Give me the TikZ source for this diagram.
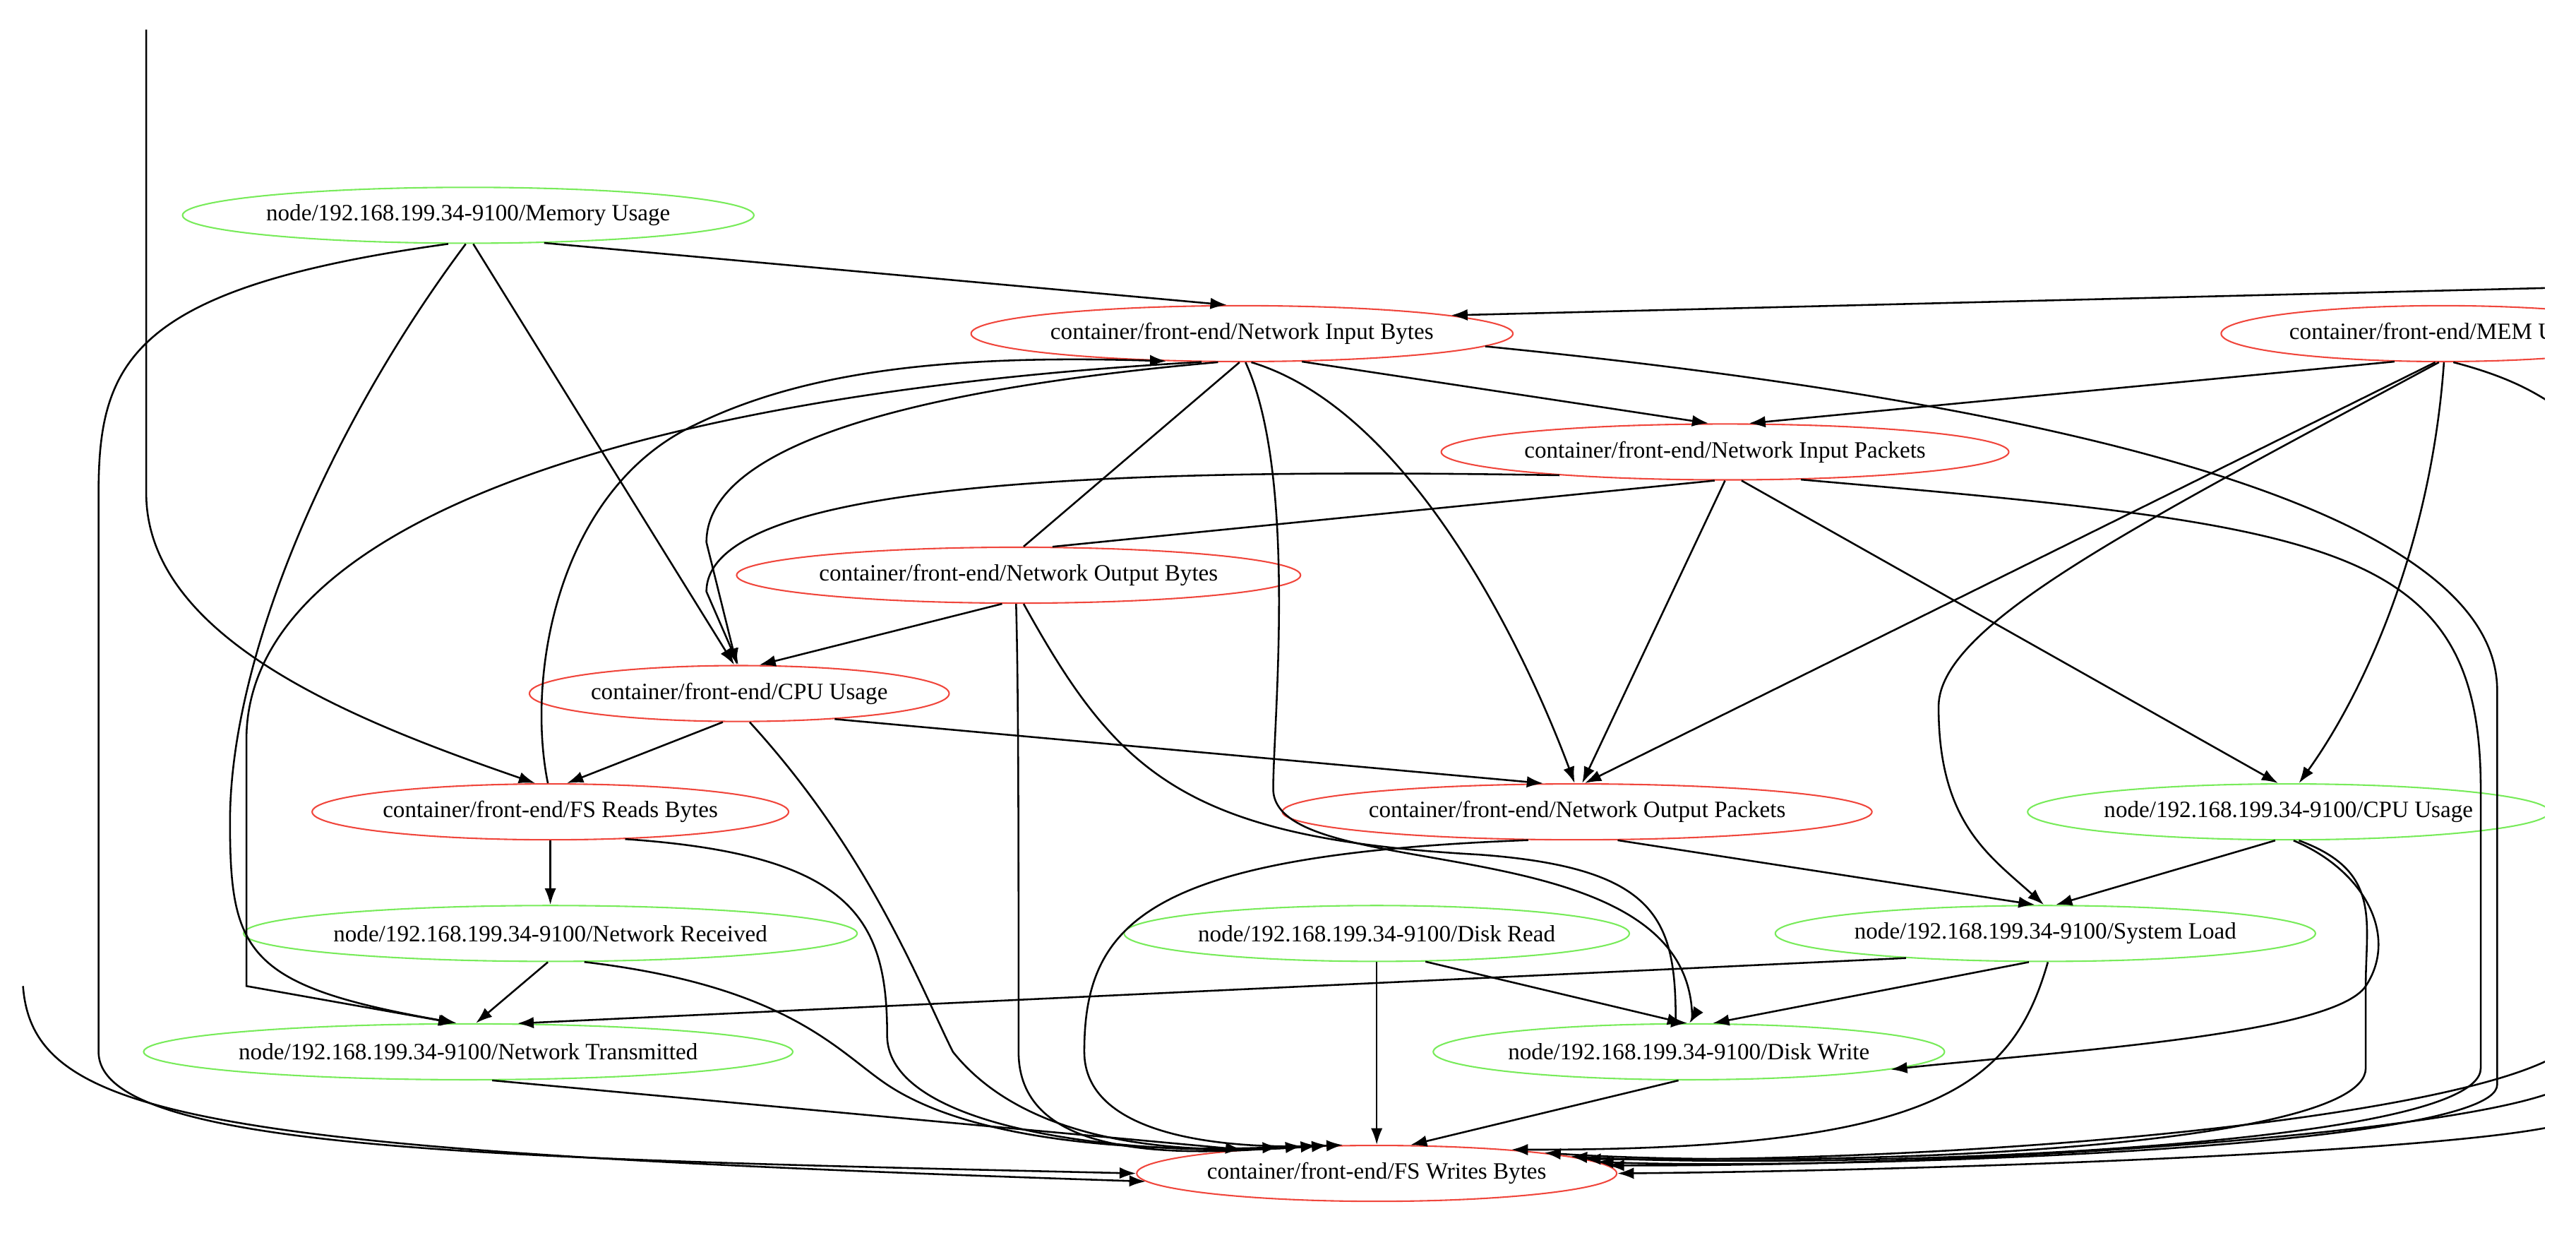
\documentclass[tikz,border=0pt]{standalone}
\usepackage{fontspec}
\setmainfont{Liberation Serif}
\usetikzlibrary{shapes.geometric,arrows.meta}
\definecolor{rd}{RGB}{240,70,60}
\definecolor{gn}{RGB}{120,235,90}
\begin{document}
\begin{tikzpicture}[x=1mm,y=-1mm,
 nd/.style={ellipse,draw,line width=0.9mm,minimum height=34mm,inner sep=0pt,font=\fontsize{40.5}{44}\selectfont},
 r/.style={nd,draw=rd}, g/.style={nd,draw=gn},
 e/.style={line width=1.1mm,black},
 a/.style={e,-{Latex[length=10mm,width=7mm]}}]
\useasboundingbox (0,0) rectangle (1568,750);
\begin{scope}
\clip (0,0) rectangle (1549,750);
\node[g,minimum width=336mm] (mem) at (285,131) {node/192.168.199.34-9100/Memory Usage};
\node[r,minimum width=320mm] (nib) at (756,203) {container/front-end/Network Input Bytes};
\node[r,minimum width=270mm] (memu) at (1487,203) {container/front-end/MEM Usage};
\node[r,minimum width=340mm] (nip) at (1050,275) {container/front-end/Network Input Packets};
\node[r,minimum width=330mm] (nob) at (620,350) {container/front-end/Network Output Bytes};
\node[r,minimum width=224mm] (cpu) at (450,422) {container/front-end/CPU Usage};
\node[r,minimum width=350mm] (nop) at (960,494) {container/front-end/Network Output Packets};
\node[g,minimum width=310mm] (ncpu) at (1393,494) {node/192.168.199.34-9100/CPU Usage};
\node[r,minimum width=290mm] (fsr) at (335,494) {container/front-end/FS Reads Bytes};
\node[g,minimum width=360mm] (nrx) at (335,568) {node/192.168.199.34-9100/Network Received};
\node[g,minimum width=300mm] (drd) at (838,568) {node/192.168.199.34-9100/Disk Read};
\node[g,minimum width=320mm] (sys) at (1245,568) {node/192.168.199.34-9100/System Load};
\node[g,minimum width=380mm] (ntx) at (285,640) {node/192.168.199.34-9100/Network Transmitted};
\node[g,minimum width=300mm] (dwr) at (1028,640) {node/192.168.199.34-9100/Disk Write};
\node[r,minimum width=290mm] (fsw) at (838,714) {container/front-end/FS Writes Bytes};
\coordinate (t0) at (89,18);
\coordinate (l0) at (14,600);
\coordinate (r0) at (1560,175);
\coordinate (r1) at (1560,250);
\coordinate (r2) at (1560,640);
\coordinate (r3) at (1560,662);
\coordinate (r4) at (1560,684);
\draw[a] (t0) -- (89,300) .. controls (89,390) and (220,440) .. (fsr.118);
\draw[a] (l0) .. controls (20,680) and (120,700) .. (fsw.182);
\draw[a] (mem.-20) -- (nib.118);
\draw[a] (mem.-125) .. controls (80,175) and (60,220) .. (60,300) -- (60,640) .. controls (60,700) and (300,705) .. (fsw.180);
\draw[a] (mem.-95) .. controls (200,260) and (140,400) .. (140,500) .. controls (140,580) and (150,600) .. (ntx.112);
\draw[a] (mem.-80) -- (cpu.100);
\draw[a] (r0) -- (nib.5);
\draw[a] (nib.-25) -- (nip.120);
\draw[e] (nib.-95) -- (nob.80);
\draw[a] (nib.-130) .. controls (520,240) and (430,280) .. (430,330) -- (cpu.95);
\draw[a] (nib.-72) .. controls (860,250) and (930,400) .. (nop.95);
\draw[a] (nib.-83) .. controls (790,290) and (775,440) .. (775,480) .. controls (775,540) and (1030,500) .. (1030,620) -- (dwr.89);
\draw[a] (nib.-3) .. controls (1300,250) and (1520,320) .. (1520,420) -- (1520,660) .. controls (1520,700) and (1100,712) .. (fsw.3);
\draw[a] (nib.-145) .. controls (380,240) and (150,320) .. (150,450) -- (150,600) -- (ntx.115);
\draw[a] (fsr.95) .. controls (320,410) and (340,300) .. (420,260) .. controls (480,230) and (560,215) .. (nib.-160);
\draw[a] (memu.-150) -- (nip.50);
\draw[a] (memu.-105) -- (nop.75);
\draw[a] (memu.-98) .. controls (1300,320) and (1180,380) .. (1180,430) .. controls (1180,500) and (1210,520) .. (sys.93);
\draw[a] (memu.-88) .. controls (1480,330) and (1440,420) .. (ncpu.70);
\draw[e] (memu.-70) .. controls (1530,230) and (1545,240) .. (r1);
\draw[a] (nip.-172) .. controls (700,285) and (430,290) .. (430,360) -- (cpu.92);
\draw[e] (nip.-110) -- (nob.40);
\draw[a] (nip.-90) -- (nop.80);
\draw[a] (nip.-60) -- (ncpu.110);
\draw[a] (nip.-20) .. controls (1420,320) and (1510,330) .. (1510,480) -- (1510,650) .. controls (1510,700) and (1100,712) .. (fsw.5);
\draw[a] (nob.-120) -- (cpu.55);
\draw[a] (nob.-95) .. controls (620,420) and (620,520) .. (620,640) .. controls (620,700) and (700,705) .. (fsw.160);
\draw[a] (nob.-80) .. controls (680,470) and (720,510) .. (900,520) .. controls (1010,528) and (1020,560) .. (1020,622) -- (dwr.93);
\draw[a] (cpu.-120) -- (fsr.60);
\draw[a] (cpu.-15) -- (nop.140);
\draw[a] (cpu.-70) .. controls (530,520) and (560,600) .. (580,640) .. controls (620,690) and (700,705) .. (fsw.150);
\draw[a] (fsr.-90) -- (nrx.90);
\draw[a] (fsr.-20) .. controls (520,520) and (540,560) .. (540,630) .. controls (540,690) and (700,705) .. (fsw.155);
\draw[a] (nop.-35) -- (sys.110);
\draw[a] (nop.-150) .. controls (700,520) and (660,560) .. (660,640) .. controls (660,690) and (740,700) .. (fsw.140);
\draw[a] (nrx.-95) -- (ntx.75);
\draw[a] (nrx.-40) .. controls (480,600) and (510,640) .. (540,660) .. controls (600,700) and (720,700) .. (fsw.165);
\draw[a] (drd.-90) -- (fsw.90);
\draw[a] (drd.-30) -- (dwr.100);
\draw[a] (sys.-170) -- (ntx.30);
\draw[a] (sys.-120) -- (dwr.50);
\draw[a] (sys.-85) .. controls (1225,660) and (1180,700) .. (fsw.10);
\draw[a] (ncpu.-115) -- (sys.70);
\draw[a] (ncpu.-80) .. controls (1440,530) and (1460,570) .. (1440,600) .. controls (1420,630) and (1250,640) .. (dwr.-5);
\draw[a] (ncpu.-70) .. controls (1450,530) and (1440,560) .. (1440,600) -- (1440,650) .. controls (1440,700) and (1100,712) .. (fsw.7);
\draw[a] (ntx.-50) -- (fsw.170);
\draw[a] (dwr.-110) -- (fsw.40);
\draw[a] (r2) .. controls (1500,680) and (1200,708) .. (fsw.4);
\draw[a] (r3) .. controls (1500,690) and (1200,710) .. (fsw.2);
\draw[a] (r4) .. controls (1500,700) and (1200,712) .. (fsw.0);
\end{scope}
\end{tikzpicture}
\end{document}
